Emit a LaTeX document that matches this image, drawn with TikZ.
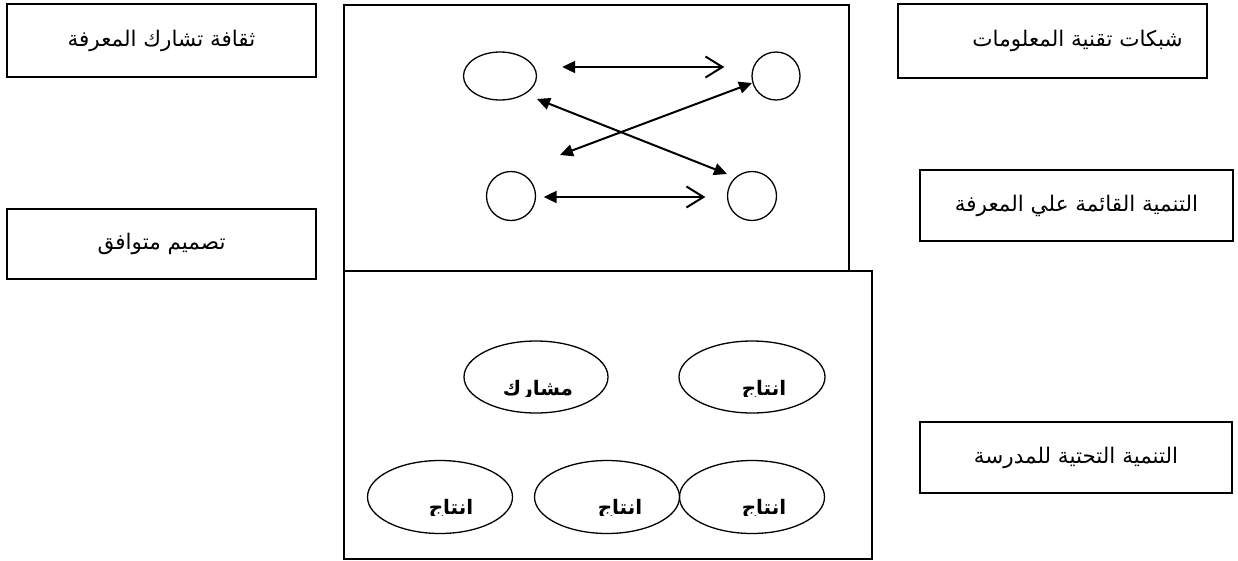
\documentclass[tikz,border=0pt]{standalone}
\usepackage{fontspec}
\usetikzlibrary{arrows.meta,shapes.geometric,calc}
\TeXXeTstate=1
\newfontfamily\arabicfont[Script=Arabic]{DejaVu Sans}
\newcommand{\artxt}[1]{\arabicfont\beginR #1\endR}
\tikzset{
  tbox/.style={draw, line width=1.6pt, inner sep=0pt, font=\fontsize{21.5}{24}\selectfont},
  bigbox/.style={draw, line width=1.5pt, inner sep=0pt},
  ell/.style={draw, ellipse, line width=1.3pt, inner sep=0pt},
  etxt/.style={inner sep=0pt, anchor=base, font=\fontsize{20}{22}\selectfont\bfseries},
  darr/.style={line width=2pt, {Triangle[length=13pt,width=12pt]}-{Triangle[length=13pt,width=12pt]}},
  harr/.style={line width=2pt, {Triangle[length=13pt,width=12pt]}-{Straight Barb[length=17pt,width=21pt]}}
}
\begin{document}
\begin{tikzpicture}[x=1pt,y=-1pt]
\useasboundingbox (0,0) rectangle (1238,560);
% big boxes
\node[bigbox, minimum width=505pt, minimum height=266pt] (topbox) at (596.5,138) {};
\node[bigbox, minimum width=528pt, minimum height=288pt] (botbox) at (608,415) {};
% side label boxes
\node[tbox, minimum width=309pt, minimum height=73pt] (b1) at (161.5,40.5) {\artxt{ثقافة تشارك المعرفة}};
\node[tbox, minimum width=309pt, minimum height=70pt] (b2) at (161.5,244) {\artxt{تصميم متوافق}};
\node[tbox, minimum width=309pt, minimum height=74pt] (b3) at (1052.5,41) {\hspace*{50pt}\artxt{شبكات تقنية المعلومات}};
\node[tbox, minimum width=313pt, minimum height=71pt] (b4) at (1076.5,205.5) {\artxt{التنمية القائمة علي المعرفة}};
\node[tbox, minimum width=312pt, minimum height=71pt] (b5) at (1076,457.5) {\artxt{التنمية التحتية للمدرسة}};
% top box ellipses
\node[ell, minimum width=73pt, minimum height=48pt] (tl) at (500,76) {};
\node[ell, minimum width=48pt, minimum height=48pt] (tr) at (776,76) {};
\node[ell, minimum width=49pt, minimum height=49pt] (bl) at (511,196) {};
\node[ell, minimum width=49pt, minimum height=49pt] (br) at (752,196) {};
% arrows
\draw[harr] ($(tl.east)+(25,-9)$) -- ($(tr.west)+(-27,-9)$);
\draw[harr] ($(bl.east)+(7.5,1)$) -- ($(br.west)+(-21.5,1)$);
\draw[darr] ($(tl)+(37,23)$) -- ($(br)+(-25,-22)$);
\draw[darr] ($(tr)+(-24,7)$) -- ($(bl)+(49,-41)$);
% bottom box ellipses
\node[ell, minimum width=144pt, minimum height=72pt] (e1) at (536,377) {};
\node[ell, minimum width=146pt, minimum height=72pt] (e2) at (752,377) {};
\node[ell, minimum width=145pt, minimum height=73pt] (e3) at (440,497) {};
\node[ell, minimum width=145pt, minimum height=73pt] (e4) at (607,497) {};
\node[ell, minimum width=145pt, minimum height=73pt] (e5) at (752,497) {};
% clipped texts
\begin{scope}
\clip (470,340) rectangle (600,396);
\node[etxt] (t1) at (538,395) {\artxt{مشارك}};
\end{scope}
\begin{scope}
\clip (690,340) rectangle (820,396);
\node[etxt] (t2) at (764,395) {\artxt{انتاج}};
\end{scope}
\begin{scope}
\clip (380,460) rectangle (505,515);
\node[etxt] (t3) at (451,514) {\artxt{انتاج}};
\end{scope}
\begin{scope}
\clip (545,460) rectangle (675,515);
\node[etxt] (t4) at (620,514) {\artxt{انتاج}};
\end{scope}
\begin{scope}
\clip (690,460) rectangle (820,515);
\node[etxt] (t5) at (764,514) {\artxt{انتاج}};
\end{scope}
\end{tikzpicture}
\end{document}
